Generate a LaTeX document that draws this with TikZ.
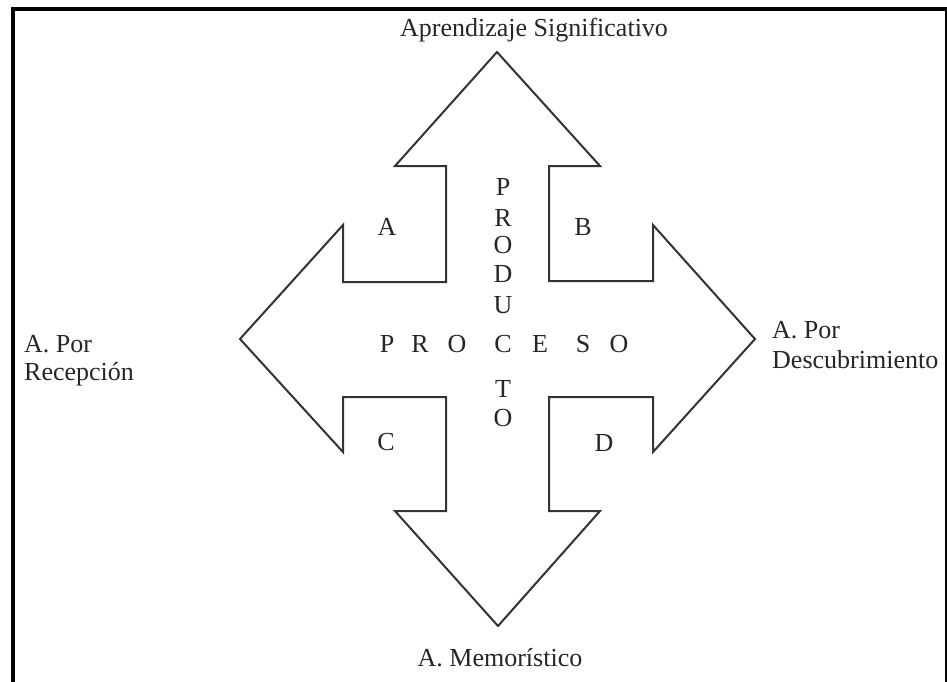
\documentclass[tikz,border=0pt]{standalone}
\usepackage{fontspec}
\setmainfont{Liberation Serif}
\begin{document}
\begin{tikzpicture}[x=1pt,y=-1pt,
  lbl/.style={font=\fontsize{26}{29}\selectfont, inner sep=0pt, text=black!85},
  crossarrow/.style={draw=black!80, line width=2pt, line join=miter}]
\useasboundingbox (0,0) rectangle (947,681);
\fill[white] (0,0) rectangle (947,681);
% outer frame (right and bottom edges run off the page)
\draw[line width=4pt] (13,9) rectangle (947,684);
% four-way arrow outline
\draw[crossarrow] (497,52) -- (600,166) -- (549,166) -- (549,281) -- (653,281) -- (653,225)
  -- (755,339) -- (653,452) -- (653,397) -- (549,397) -- (549,511) -- (600,511)
  -- (498,626) -- (395,511) -- (446,511) -- (446,397) -- (343,397) -- (343,452)
  -- (240,339) -- (343,225) -- (343,282) -- (446,282) -- (446,166) -- (395,166) -- cycle;
% end labels
\node[lbl, anchor=base] (top) at (534,36) {Aprendizaje Significativo};
\node[lbl, anchor=base] (bottom) at (500,666) {A. Memorístico};
\node[lbl, anchor=base west] (recA) at (24,352) {A. Por};
\node[lbl, anchor=base west] (recB) at (24,380) {Recepción};
\node[lbl, anchor=base west] (desA) at (772,338) {A. Por};
\node[lbl, anchor=base west] (desB) at (772,368) {Descubrimiento};
% quadrant letters
\node[lbl] (qa) at (387,227) {A};
\node[lbl] (qb) at (583,227) {B};
\node[lbl] (qc) at (386,442) {C};
\node[lbl] (qd) at (604,443) {D};
% PROCESO across
\node[lbl, anchor=base] (h1) at (387,352) {P};
\node[lbl, anchor=base] (h2) at (420,352) {R};
\node[lbl, anchor=base] (h3) at (457,352) {O};
\node[lbl, anchor=base] (hc) at (503,352) {C};
\node[lbl, anchor=base] (h5) at (540,352) {E};
\node[lbl, anchor=base] (h6) at (583,352) {S};
\node[lbl, anchor=base] (h7) at (619,352) {O};
% PRODUCTO down
\node[lbl, anchor=base] (v1) at (503,195) {P};
\node[lbl, anchor=base] (v2) at (503,226) {R};
\node[lbl, anchor=base] (v3) at (503,253) {O};
\node[lbl, anchor=base] (v4) at (503,282) {D};
\node[lbl, anchor=base] (v5) at (503,313) {U};
\node[lbl, anchor=base] (v7) at (503,397) {T};
\node[lbl, anchor=base] (v8) at (503,426) {O};
\end{tikzpicture}
\end{document}
